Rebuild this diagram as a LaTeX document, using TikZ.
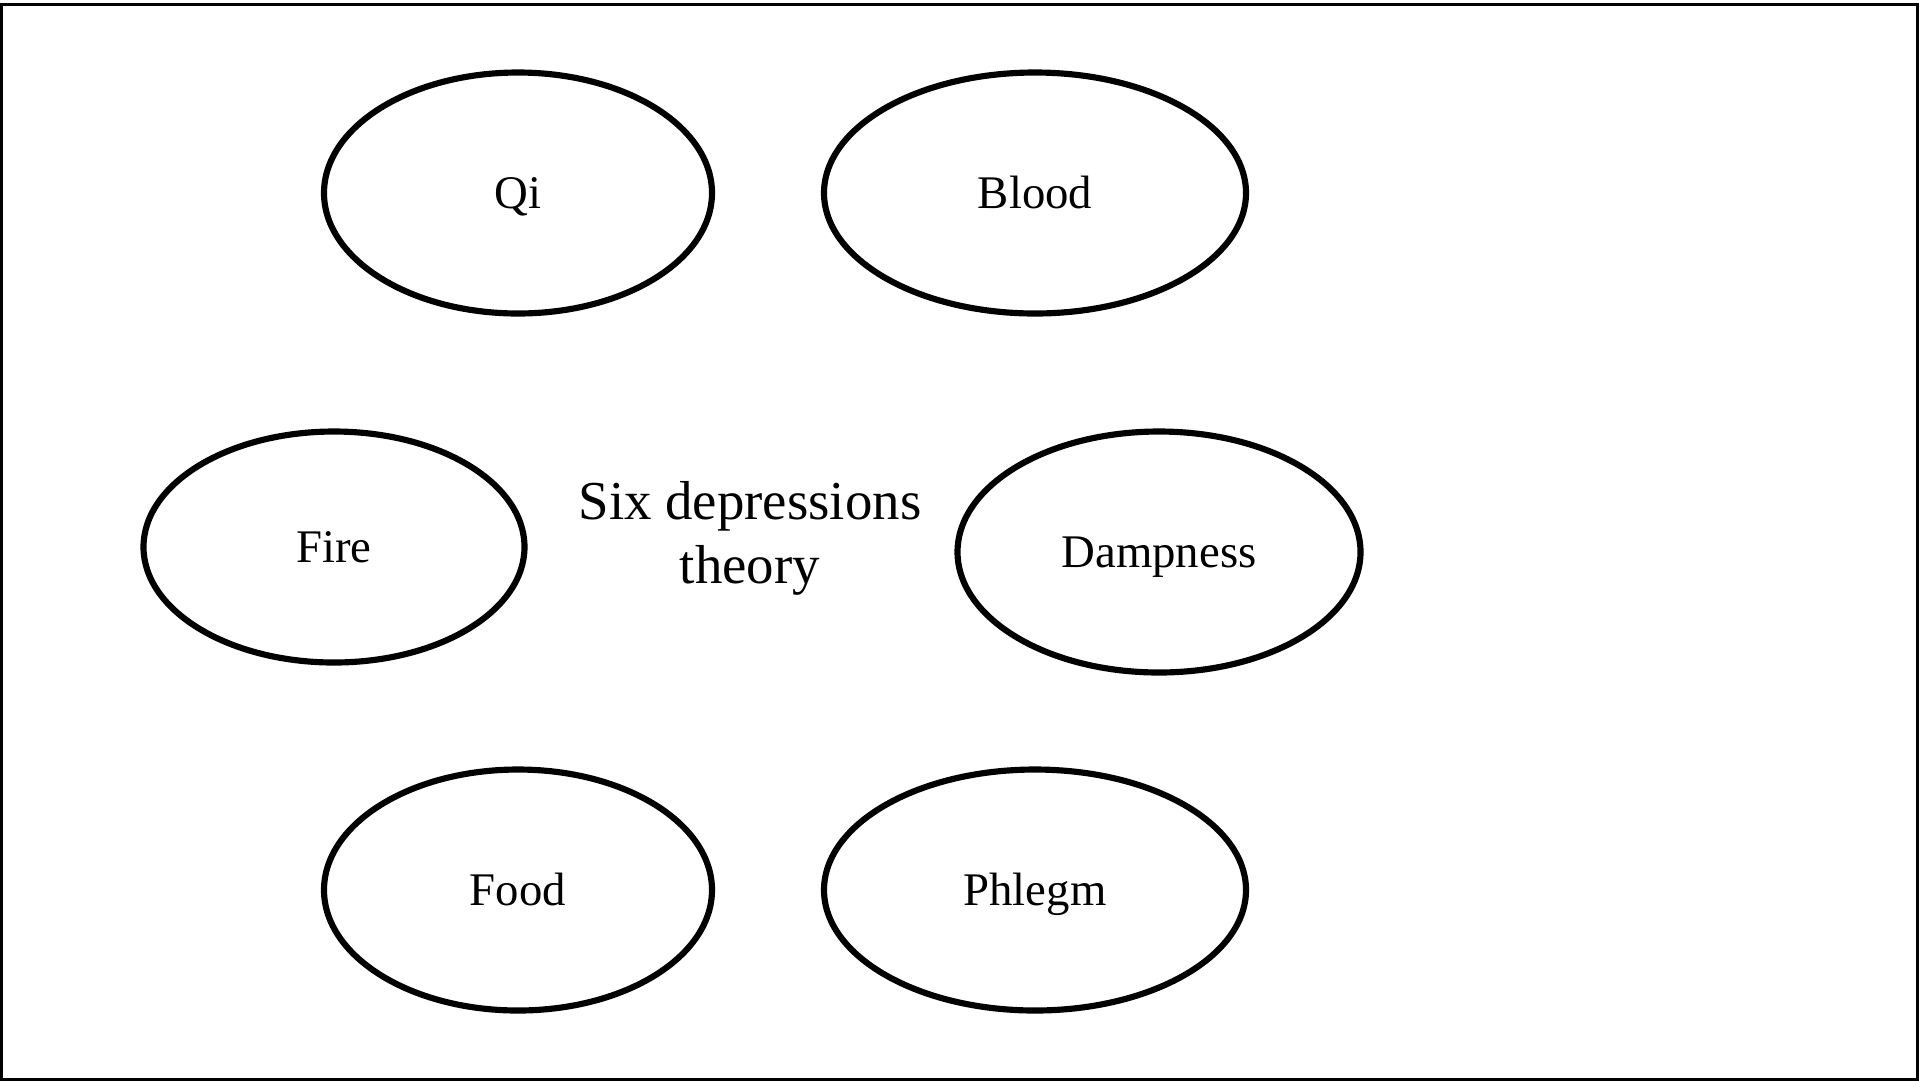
\documentclass[tikz,border=0pt]{standalone}
\usepackage{fontspec}
\setmainfont{Liberation Serif}
\usetikzlibrary{shapes.geometric,positioning}
\newcommand{\myunit}{0.01cm}
\tikzset{
    ovalsty/.style={draw,ellipse,line width=1.75pt,inner sep=0pt,text height=0.88em,text depth=0pt,font=\fontsize{13.3}{16}\selectfont},
    qisty/.style={ovalsty,minimum width=388*\myunit,minimum height=241*\myunit},
    wideovalsty/.style={ovalsty,minimum width=422*\myunit,minimum height=241*\myunit},
    firesty/.style={ovalsty,minimum width=381*\myunit,minimum height=231*\myunit},
    dampsty/.style={ovalsty,minimum width=403*\myunit,minimum height=241*\myunit},
    titlesty/.style={align=center,font=\fontsize{15.6}{18.2}\selectfont},
    framesty/.style={draw,line width=0.9pt},
}

\begin{document}
\begin{tikzpicture}[x=\myunit,y=-\myunit]
  \useasboundingbox (0,0) rectangle (1919,1081);
  \draw[framesty] (1.5,4.5) rectangle (1917.5,1079.5);

  \node[qisty]       (qi)     at (518,193)  {Qi};
  \node[wideovalsty] (blood)  at (1035,193) {Blood};
  \node[firesty]     (fire)   at (334,547)  {Fire};
  \node[dampsty]     (damp)   at (1159,552) {Dampness};
  \node[qisty]       (food)   at (518,890)  {Food};
  \node[wideovalsty] (phlegm) at (1035,890) {Phlegm};

  \node[titlesty] (title) at (750,538) {Six depressions\\theory};
\end{tikzpicture}
\end{document}
